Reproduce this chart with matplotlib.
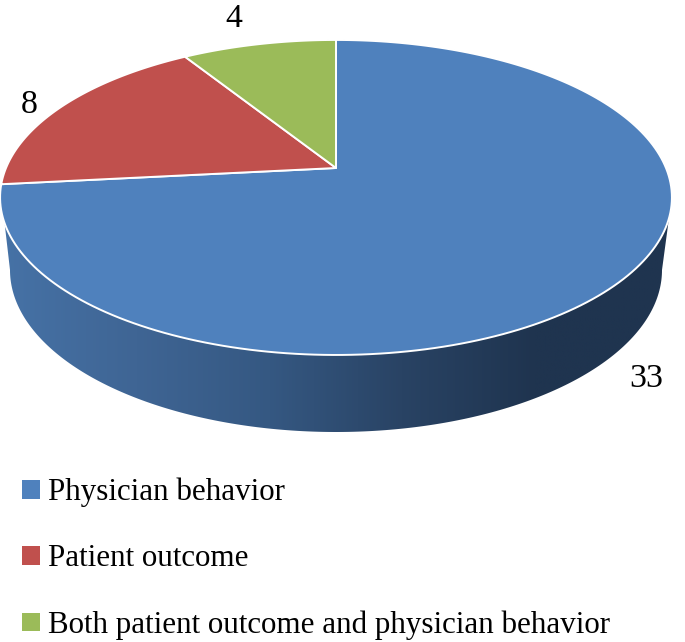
import numpy as np
import matplotlib
matplotlib.use('Agg')
import matplotlib.pyplot as plt
from matplotlib.colors import LinearSegmentedColormap
from matplotlib.patches import Patch, Polygon

categories = ['Physician behavior', 'Patient outcome', 'Both patient outcome and physician behavior']
values = [33, 8, 4]
colors = ['#4F81BD', '#C0504D', '#9BBB59']
wall_colors = ['#4672A6', '#3F6594', '#355882', '#294364', '#1F344F', '#1F344F']

plt.rcParams['font.family'] = ['Liberation Serif', 'DejaVu Serif']

fig = plt.figure(figsize=(6.85, 6.42), dpi=100)
ax = fig.add_axes([0, 0, 1, 1])
ax.axis('off')

# pie top face is a circle seen in perspective, k is the tilt
cx, cy = 336, 168
rx, ry = 330, 152
k = 0.187


def project(deg):
    # deg is clockwise from 12 o'clock
    t = np.radians(deg)
    u, v = np.sin(t), np.cos(t)
    w = 1 + k * v
    return cx + rx * u / w, cy - ry * v / w


# side wall
t = np.linspace(np.pi, 0, 200)
wall_x = 336 + 326 * np.cos(t)
wall_y = 270 + 162 * np.sin(t)
wall = np.column_stack([np.r_[4, wall_x, 669], np.r_[218, wall_y, 218]])
clip = Polygon(wall, closed=True, transform=ax.transData, facecolor='none', edgecolor='none')
ax.add_patch(clip)
cmap = LinearSegmentedColormap.from_list('wall', wall_colors)
im = ax.imshow(np.linspace(0, 1, 256).reshape(1, -1), cmap=cmap, extent=[3, 669, 440, 200], aspect='auto')
im.set_clip_path(clip)

# top face
start = 0
for val, col in zip(values, colors):
    stop = start + 360 * val / sum(values)
    xs, ys = project(np.linspace(start, stop, 200))
    pts = np.column_stack([np.r_[cx, xs], np.r_[cy, ys]])
    ax.add_patch(Polygon(pts, closed=True, facecolor=col, edgecolor='white', linewidth=1.4, joinstyle='round'))
    start = stop

ax.set_xlim(0, 685)
ax.set_ylim(642, 0)

# data labels
ax.text(234, 19, str(values[2]), fontsize=24.5, ha='center', va='center')
ax.text(29, 105, str(values[1]), fontsize=24.5, ha='center', va='center')
ax.text(646, 379, str(values[0]), fontsize=24.5, ha='center', va='center')

handles = [Patch(facecolor=c, edgecolor='none') for c in colors]
ax.legend(handles, categories, loc='upper left', bbox_to_anchor=(0.0325, 0.256), frameon=False,
          fontsize=22.3, handlelength=0.56, handleheight=0.56, handletextpad=0.28,
          labelspacing=1.2, borderpad=0, borderaxespad=0)

fig.savefig('out.png', dpi=100)
